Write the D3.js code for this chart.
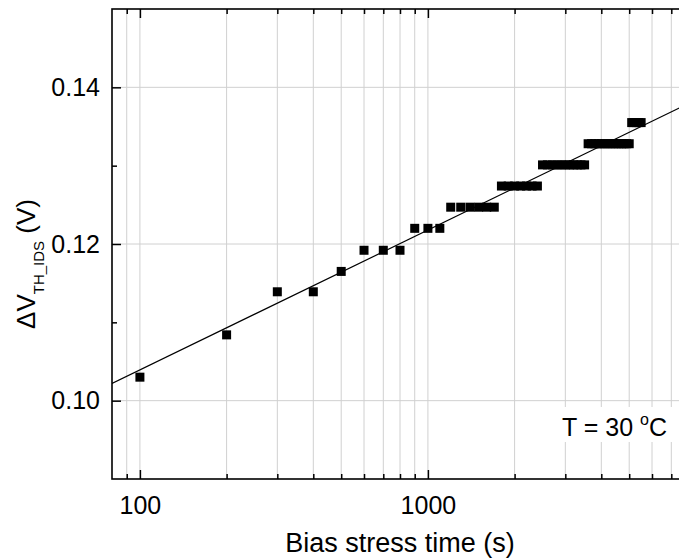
<!DOCTYPE html>
<html>
<head>
<meta charset="utf-8">
<script src="https://cdn.jsdelivr.net/npm/d3@7"></script>
<style>
  body { margin: 0; background: #fff; }
  svg { font-family: "Liberation Sans", Arial, sans-serif; }
</style>
</head>
<body>
<div id="chart-area"></div>
<script>
const WIDTH = 679
const HEIGHT = 560
const PLOT = { LEFT: 112, RIGHT: 688, TOP: 9, BOTTOM: 479 }

// data
const stressTime = [100, 200, 300, 400, 500, 600, 700, 800, 900, 1000, 1100,
  1200, 1300, 1400, 1500, 1600, 1700,
  1800, 1900, 2000, 2100, 2200, 2300, 2400,
  2500, 2600, 2700, 2800, 2900, 3000, 3100, 3200, 3300, 3400, 3500,
  3600, 3700, 3800, 3900, 4000, 4100, 4200, 4300, 4400, 4500, 4600, 4700, 4800, 4900, 5000,
  5100, 5200, 5300, 5400, 5500]
const deltaVth = [0.1030, 0.1084, 0.1139, 0.1139, 0.1165, 0.1192, 0.1192, 0.1192, 0.1220, 0.1220, 0.1220,
  0.1247, 0.1247, 0.1247, 0.1247, 0.1247, 0.1247,
  0.1274, 0.1274, 0.1274, 0.1274, 0.1274, 0.1274, 0.1274,
  0.1301, 0.1301, 0.1301, 0.1301, 0.1301, 0.1301, 0.1301, 0.1301, 0.1301, 0.1301, 0.1301,
  0.1328, 0.1328, 0.1328, 0.1328, 0.1328, 0.1328, 0.1328, 0.1328, 0.1328, 0.1328, 0.1328, 0.1328, 0.1328, 0.1328, 0.1328,
  0.1355, 0.1355, 0.1355, 0.1355, 0.1355]

// fitted line end points
const fitTime = [80, 8000]
const fitValue = [0.1022, 0.1379]

// ticks
const xMajorTicks = [100, 1000]
const xMinorTicks = [90, 200, 300, 400, 500, 600, 700, 800, 900, 2000, 3000, 4000, 5000, 6000, 7000, 8000]
const yMajorTicks = [0.10, 0.12, 0.14]
const yMinorTicks = [0.11, 0.13]

const svg = d3.select("#chart-area").append("svg")
  .attr("width", WIDTH)
  .attr("height", HEIGHT)

const x = d3.scaleLog().domain([80, 8000]).range([PLOT.LEFT, PLOT.RIGHT])
const y = d3.scaleLinear().domain([0.09, 0.15]).range([PLOT.BOTTOM, PLOT.TOP])

svg.append("clipPath").attr("id", "plot-clip")
  .append("rect")
  .attr("x", PLOT.LEFT).attr("y", PLOT.TOP)
  .attr("width", PLOT.RIGHT - PLOT.LEFT).attr("height", PLOT.BOTTOM - PLOT.TOP)

// grid
const grid = svg.append("g").attr("stroke", "#d0d0d0").attr("stroke-width", 1)
grid.selectAll(".vgrid")
  .data(xMajorTicks.concat(xMinorTicks))
  .enter().append("line")
  .attr("x1", d => x(d)).attr("x2", d => x(d))
  .attr("y1", PLOT.TOP).attr("y2", PLOT.BOTTOM)
grid.selectAll(".hgrid")
  .data(yMajorTicks)
  .enter().append("line")
  .attr("x1", PLOT.LEFT).attr("x2", PLOT.RIGHT)
  .attr("y1", d => y(d)).attr("y2", d => y(d))

// annotation box (sits over the grid)
const note = svg.append("g").attr("transform", "translate(560, 407)")
note.append("rect")
  .attr("width", 112).attr("height", 35)
  .attr("fill", "#fff")
const noteText = note.append("text")
  .attr("x", 2).attr("y", 29)
  .attr("font-size", "25px")
  .attr("fill", "#000")
noteText.append("tspan").text("T = 30 ")
noteText.append("tspan").attr("font-size", "16px").attr("dy", -11).text("o")
noteText.append("tspan").attr("dy", 11).text("C")

// fit line
const data = stressTime.map((t, i) => ({ t: t, v: deltaVth[i] }))
const fit = fitTime.map((t, i) => ({ t: t, v: fitValue[i] }))

const line = d3.line()
  .x(d => x(d.t))
  .y(d => y(d.v))

svg.append("path")
  .attr("clip-path", "url(#plot-clip)")
  .attr("d", line(fit))
  .attr("fill", "none")
  .attr("stroke", "#000")
  .attr("stroke-width", 1.2)

// markers
const S = 9
svg.append("g").attr("clip-path", "url(#plot-clip)")
  .selectAll("rect")
  .data(data)
  .enter().append("rect")
  .attr("x", d => x(d.t) - S / 2)
  .attr("y", d => y(d.v) - S / 2)
  .attr("width", S).attr("height", S)
  .attr("fill", "#000")

// axes (ticks inward)
function styleAxis(sel) {
  sel.select(".domain").remove()
  sel.selectAll(".tick line").attr("stroke", "#000").attr("stroke-width", 1.5)
  sel.selectAll(".tick text").attr("fill", "#000").attr("font-size", "25px")
    .attr("font-family", "'Liberation Sans', Arial, sans-serif")
}

const xAxisMajor = d3.axisBottom(x).tickValues(xMajorTicks).tickSizeInner(-9).tickSizeOuter(0)
  .tickPadding(17).tickFormat(d3.format("d"))
const xAxisMinor = d3.axisBottom(x).tickValues(xMinorTicks).tickSizeInner(-5).tickSizeOuter(0).tickFormat("")
svg.append("g").attr("transform", `translate(0, ${PLOT.BOTTOM})`).call(xAxisMajor).call(styleAxis)
svg.append("g").attr("transform", `translate(0, ${PLOT.BOTTOM})`).call(xAxisMinor).call(styleAxis)

const topMajor = d3.axisTop(x).tickValues(xMajorTicks).tickSizeInner(-9).tickSizeOuter(0).tickFormat("")
const topMinor = d3.axisTop(x).tickValues(xMinorTicks).tickSizeInner(-5).tickSizeOuter(0).tickFormat("")
svg.append("g").attr("transform", `translate(0, ${PLOT.TOP})`).call(topMajor).call(styleAxis)
svg.append("g").attr("transform", `translate(0, ${PLOT.TOP})`).call(topMinor).call(styleAxis)

const yAxisMajor = d3.axisLeft(y).tickValues(yMajorTicks).tickSizeInner(-9).tickSizeOuter(0)
  .tickPadding(12).tickFormat(d3.format(".2f"))
const yAxisMinor = d3.axisLeft(y).tickValues(yMinorTicks).tickSizeInner(-5).tickSizeOuter(0).tickFormat("")
svg.append("g").attr("transform", `translate(${PLOT.LEFT}, 0)`).call(yAxisMajor).call(styleAxis)
svg.append("g").attr("transform", `translate(${PLOT.LEFT}, 0)`).call(yAxisMinor).call(styleAxis)

// frame
svg.append("rect")
  .attr("x", PLOT.LEFT).attr("y", PLOT.TOP)
  .attr("width", PLOT.RIGHT - PLOT.LEFT).attr("height", PLOT.BOTTOM - PLOT.TOP)
  .attr("fill", "none").attr("stroke", "#000").attr("stroke-width", 1.6)

// axis labels
svg.append("text")
  .attr("x", 400).attr("y", 552)
  .attr("text-anchor", "middle")
  .attr("font-size", "27px")
  .attr("fill", "#000")
  .text("Bias stress time (s)")

const yLabel = svg.append("text")
  .attr("transform", "translate(35, 264) rotate(-90)")
  .attr("text-anchor", "middle")
  .attr("font-size", "26px")
  .attr("fill", "#000")
yLabel.append("tspan").text("\u0394V")
yLabel.append("tspan").attr("font-size", "15px").attr("dy", 9).text("TH_IDS")
yLabel.append("tspan").attr("dy", -9).text(" (V)")
</script>
</body>
</html>
